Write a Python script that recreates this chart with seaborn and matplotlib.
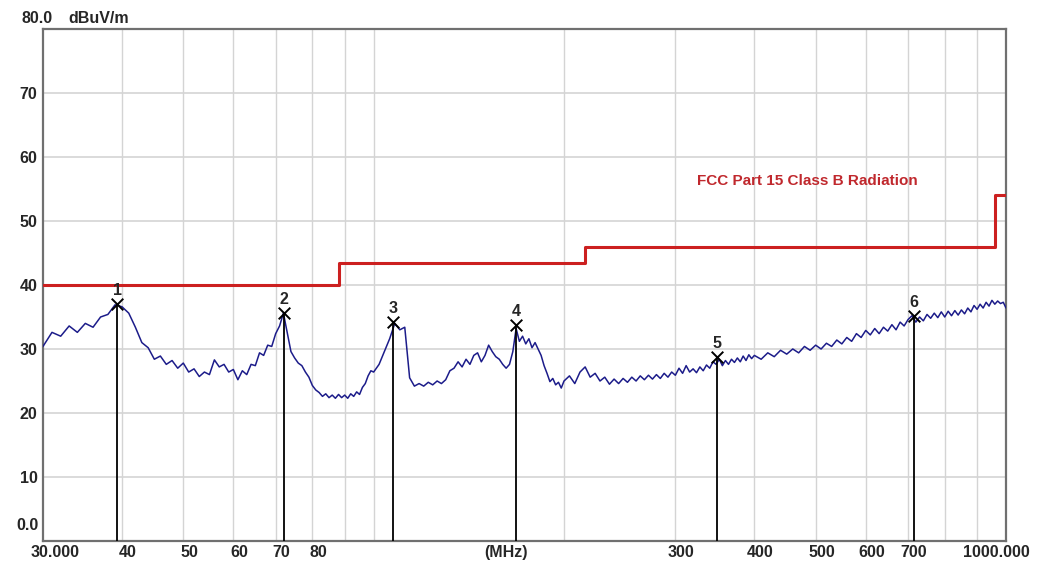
import numpy as np
import pandas as pd
import seaborn as sns
import matplotlib.pyplot as plt
import matplotlib.transforms as mtransforms

freq_a = [30, 31, 32, 33, 34, 35, 36, 37, 38, 39, 40, 41, 42, 43, 44, 45, 46, 47, 48, 49,
          50, 51, 52, 53, 54, 55, 56, 57, 58, 59, 60, 61, 62, 63, 64, 65, 66, 67, 68, 69,
          70, 71, 72, 73, 74, 75, 76, 77, 78, 79, 80, 81, 82, 83, 84, 85, 86, 87, 88, 89,
          90, 91, 92, 93, 94, 95, 96, 97, 98, 99, 100]
level_a = [30.4, 32.6, 32.0, 33.6, 32.6, 34.0, 33.4, 35.0, 35.4, 36.9, 36.6, 35.6, 33.4, 31.0, 30.2, 28.4, 28.9, 27.6, 28.2, 27.0,
           27.8, 26.4, 26.9, 25.7, 26.4, 26.0, 28.3, 27.2, 27.6, 26.4, 26.8, 25.2, 26.6, 26.0, 27.6, 27.4, 29.4, 29.0, 30.6, 30.4,
           32.4, 33.6, 35.6, 32.6, 29.6, 28.6, 27.8, 27.4, 26.4, 25.6, 24.3, 23.6, 23.2, 22.6, 23.0, 22.4, 22.8, 22.3, 22.9, 22.4,
           22.8, 22.3, 23.0, 22.6, 23.3, 22.9, 24.0, 24.6, 25.8, 26.6, 26.4]

freq_b = [102, 104, 106, 108, 110, 112, 114, 116, 118, 120, 122, 124, 126, 128, 130, 132, 134, 136, 138, 140,
          142, 144, 146, 148, 150, 152, 154, 156, 158, 160, 162, 164, 166, 168, 170, 172, 174, 176, 178, 180,
          182, 184, 186, 188, 190, 192, 194, 196, 198, 200]
level_b = [27.6, 29.6, 31.6, 34.0, 33.0, 33.4, 25.5, 24.2, 24.6, 24.2, 24.8, 24.4, 25.0, 24.6, 25.2, 26.6, 27.0, 28.0, 27.2, 28.4,
           27.6, 29.0, 29.4, 28.0, 29.0, 30.6, 29.6, 28.8, 28.4, 27.6, 27.0, 27.6, 29.6, 33.2, 31.2, 32.0, 30.8, 31.6, 30.2, 31.0,
           30.0, 29.0, 27.4, 26.2, 24.9, 25.4, 24.4, 24.8, 23.9, 25.0]

freq_c = [204, 208, 212, 216, 220, 224, 228, 232, 236, 240, 244, 248, 252, 256, 260, 264, 268, 272, 276, 280,
          284, 288, 292, 296, 300, 304, 308, 312, 316, 320, 324, 328, 332, 336, 340, 344, 348, 352, 356, 360,
          364, 368, 372, 376, 380, 384, 388, 392, 396, 400]
level_c = [25.8, 24.6, 26.4, 27.2, 25.6, 26.2, 25.0, 25.6, 24.5, 25.3, 24.6, 25.4, 24.8, 25.6, 25.0, 25.8, 25.2, 25.9, 25.3, 26.0,
           25.4, 26.2, 25.6, 26.4, 25.9, 27.0, 26.2, 27.4, 26.4, 26.9, 26.3, 27.2, 26.6, 27.5, 27.0, 28.0, 27.6, 28.4, 27.4, 28.2,
           27.6, 28.4, 27.9, 28.6, 28.0, 28.9, 28.2, 29.1, 28.5, 29.0]

freq_d = [410, 420, 430, 440, 450, 460, 470, 480, 490, 500, 510, 520, 530, 540, 550, 560, 570, 580, 590, 600,
          610, 620, 630, 640, 650, 660, 670, 680, 690, 700, 710, 720, 730, 740, 750, 760, 770, 780, 790, 800,
          810, 820, 830, 840, 850, 860, 870, 880, 890, 900, 910, 920, 930, 940, 950, 960, 970, 980, 990, 1000]
level_d = [28.4, 29.4, 28.8, 29.8, 29.2, 30.0, 29.4, 30.4, 29.8, 30.6, 30.0, 30.9, 30.4, 31.4, 30.8, 31.8, 31.2, 32.4, 31.8, 32.9,
           32.2, 33.2, 32.4, 33.4, 32.8, 33.8, 33.0, 34.2, 33.6, 34.6, 35.2, 34.2, 35.0, 34.4, 35.4, 34.8, 35.6, 34.9, 35.8, 35.0,
           35.9, 35.2, 36.0, 35.3, 36.1, 35.5, 36.4, 35.8, 36.8, 36.2, 37.0, 36.4, 37.3, 36.7, 37.6, 37.0, 37.5, 37.1, 37.3, 36.4]

# FCC Part 15 Class B limit (steps)
limit_freq = [30, 88, 216, 960, 1000]
limit_level = [40, 43.5, 46, 54, 54]

# markers
mark_freq = [39.3, 72.2, 107.2, 168.0, 348.6, 715.0]
mark_level = [37.0, 35.6, 34.2, 33.8, 28.8, 35.2]
mark_label = ['1', '2', '3', '4', '5', '6']

xtick_vals = [30, 40, 50, 60, 70, 80, 300, 400, 500, 600, 700, 1000]
xtick_text = ['30.000', '40', '50', '60', '70', '80', '300', '400', '500', '600', '700', '1000.000']
xgrid = [40, 50, 60, 70, 80, 90, 100, 200, 300, 400, 500, 600, 700, 800, 900]
ytick_vals = [10, 20, 30, 40, 50, 60, 70]

sns.set_style('white')
plt.rcParams['font.family'] = ['Liberation Sans', 'DejaVu Sans']
fs = 11.5

df = pd.DataFrame({'freq': freq_a + freq_b + freq_c + freq_d,
                   'level': level_a + level_b + level_c + level_d})

fig = plt.figure(figsize=(10.38, 5.68), dpi=100)
ax = fig.add_axes([0.0414, 0.0475, 0.9278, 0.9015])
ax.set_xscale('log')
ax.set_xlim(30, 1000)
ax.set_ylim(0, 80)

for g in xgrid:
    ax.axvline(g, color='#d4d4d4', lw=1, zorder=0)
for g in ytick_vals:
    ax.axhline(g, color='#d4d4d4', lw=1.2, zorder=0)

sns.lineplot(x=limit_freq, y=limit_level, ax=ax, color='#cc2020', lw=2.2,
             drawstyle='steps-post', estimator=None, sort=False, zorder=3)
sns.lineplot(data=df, x='freq', y='level', ax=ax, color='#1c1c8a', lw=1.1,
             estimator=None, sort=False, zorder=4)

ax.vlines(mark_freq, 0, mark_level, colors='black', lw=1.3, zorder=5)
sns.scatterplot(x=mark_freq, y=mark_level, ax=ax, marker='x', s=70, color='black',
                linewidth=1.4, zorder=6)
for f, l, t in zip(mark_freq, mark_level, mark_label):
    ax.text(f, l + 0.9, t, ha='center', va='bottom', fontsize=fs, fontweight='bold')

ax.text(324, 56.3, 'FCC Part 15 Class B Radiation', color='#c0282d', fontsize=11,
        fontweight='bold', ha='left', va='center')

ax.set_xticks(xtick_vals)
ax.set_xticklabels(xtick_text, fontsize=fs, fontweight='bold')
ax.xaxis.set_minor_locator(plt.NullLocator())
ax.set_yticks(ytick_vals)
ax.set_yticklabels([str(v) for v in ytick_vals], fontsize=fs, fontweight='bold')
ax.tick_params(axis='x', length=0, pad=3)
ax.tick_params(axis='y', length=0, pad=4)

# nudge x labels like the analyzer software does
shifts = {'30.000': 12, '1000.000': -10}
for lab in ax.get_xticklabels():
    dx = shifts.get(lab.get_text(), 6)
    lab.set_transform(lab.get_transform() + mtransforms.ScaledTranslation(dx / 100, 0, fig.dpi_scale_trans))

ax.set_xlabel('')
ax.set_ylabel('')
ax.text(162, -0.6, '(MHz)', ha='center', va='top', fontsize=fs, fontweight='bold')
ax.text(-0.004, 2.5, '0.0', transform=ax.get_yaxis_transform(), ha='right', va='center',
        fontsize=fs, fontweight='bold')
fig.text(0.021, 0.968, '80.0', ha='left', va='center', fontsize=fs, fontweight='bold')
fig.text(0.0655, 0.968, 'dBuV/m', ha='left', va='center', fontsize=fs, fontweight='bold')

for s in ['left', 'right', 'bottom', 'top']:
    ax.spines[s].set_visible(True)
    ax.spines[s].set_color('#707070')
    ax.spines[s].set_linewidth(1.6)

fig.savefig('out.png', dpi=100)
